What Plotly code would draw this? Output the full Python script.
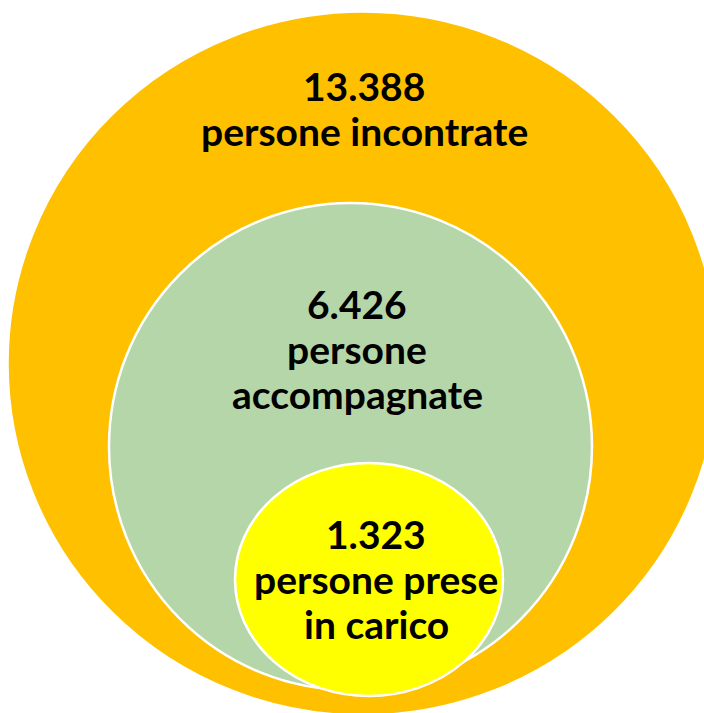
import plotly.graph_objects as go

# nested groups, outer to inner
counts = ["13.388", "6.426", "1.323"]
labels = [["persone incontrate"], ["persone", "accompagnate"], ["persone prese", "in carico"]]

# circle boxes in page pixels (x0, y0, x1, y1)
boxes = [(10, 14, 716, 713), (109, 203, 592, 690), (235, 463, 503, 696)]
fills = ["#FFC000", "#B5D6A8", "#FFFF00"]
outlines = ["#FFC000", "#FFFFFF", "#FFFFFF"]
# text centre x and first baseline y for each group
text_pos = [(364, 100), (357, 318), (376, 548)]
LINE_H = 45
FONT_SIZE = 39

W, H = 704, 713

fig = go.Figure()
fig.add_trace(go.Scatter(x=[0, W], y=[0, H], mode="markers",
                         marker=dict(opacity=0), hoverinfo="skip", showlegend=False))

for (x0, y0, x1, y1), fc, lc in zip(boxes, fills, outlines):
    fig.add_shape(type="circle", xref="x", yref="y", x0=x0, y0=y0, x1=x1, y1=y1,
                  fillcolor=fc, line=dict(color=lc, width=2.5), layer="below")

for n, lab, (tx, ty) in zip(counts, labels, text_pos):
    for i, line in enumerate([n] + lab):
        base = ty + i * LINE_H
        fig.add_annotation(x=tx, y=base - 14, xref="x", yref="y", showarrow=False,
                           yanchor="middle", text=f"<b>{line}</b>",
                           font=dict(family="Lato", size=FONT_SIZE, color="#000000"))

fig.update_xaxes(range=[0, W], visible=False, fixedrange=True)
fig.update_yaxes(range=[H, 0], visible=False, fixedrange=True)
fig.update_layout(width=W, height=H, margin=dict(l=0, r=0, t=0, b=0),
                  paper_bgcolor="white", plot_bgcolor="white")

# drop the default body margin so the figure fills the window
fig.write_html("out.html", config={"displayModeBar": False},
               post_script="document.body.style.margin='0';document.body.style.overflow='hidden';")
